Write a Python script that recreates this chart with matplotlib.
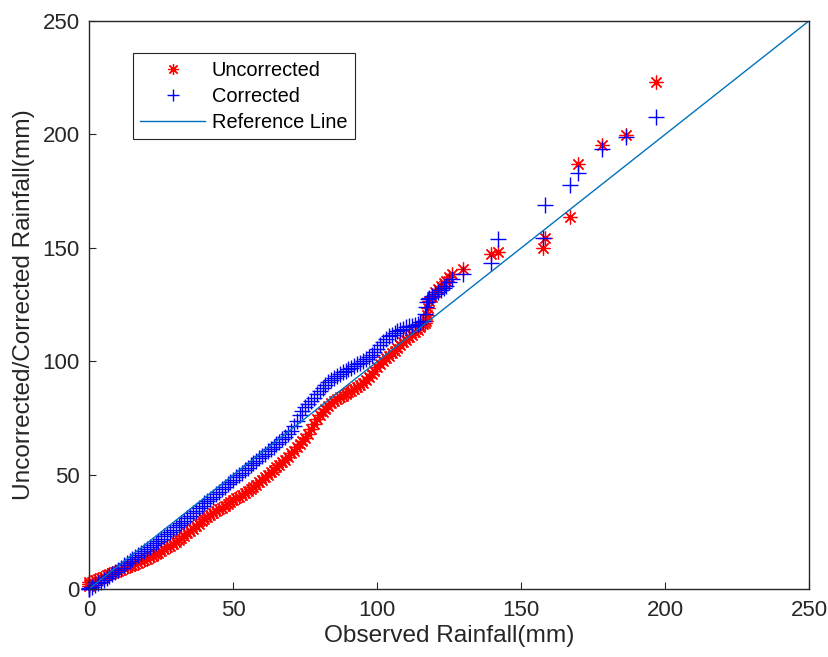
import matplotlib
matplotlib.use("Agg")
from matplotlib import pyplot as plt

plt.rcParams['font.family'] = ['Liberation Sans', 'DejaVu Sans']

# observed rainfall quantiles (mm), shared by both series
observed = [0, 0, 0, 1, 2, 3, 4, 5, 6, 7, 8, 9, 10, 11, 12, 13, 14, 15, 16, 17, 18, 19,
            20, 21, 22, 23, 24, 25, 26, 27, 28, 29, 30, 31, 32, 33, 34, 35, 36, 37, 38, 39,
            40, 41, 42, 43, 44, 45, 46, 47, 48, 49, 50, 51, 52, 53, 54, 55, 56, 57, 58, 59,
            60, 61, 62, 63, 64, 65, 66, 67, 68, 69, 70, 71, 72, 73, 74, 75, 76, 77, 78, 79,
            80, 81, 82, 83, 84, 85, 86, 87, 88, 89, 90, 91, 92, 93, 94, 95, 96, 97, 98, 99,
            100, 101, 102, 103, 104, 105, 106, 107, 108, 109, 110, 111, 112, 113, 114, 115,
            116, 116.5, 117, 117.3, 117.6, 118, 119, 120, 121, 122, 123, 124, 125, 126,
            129.8, 139.6, 141.8, 157.4, 158.3, 167.0, 169.6, 178.2, 186.4, 196.9]

uncorrected = [1.0, 2.0, 2.8, 3.0, 3.6, 4.2, 4.8, 5.3, 5.9, 6.4, 6.9, 7.4, 7.9, 8.4, 8.9, 9.4,
               9.9, 10.4, 10.9, 11.4, 12.0, 12.6, 13.2, 13.8, 14.5, 15.2, 15.9, 16.6, 17.4,
               18.2, 19.0, 19.8, 20.6, 21.5, 22.4, 23.3, 24.3, 25.3, 26.4, 27.5, 28.6, 29.6,
               30.6, 31.5, 32.4, 33.3, 34.1, 34.9, 35.7, 36.5, 37.3, 38.1, 38.9, 39.7, 40.5,
               41.3, 42.1, 43.0, 43.9, 44.8, 45.8, 46.8, 47.9, 49.0, 50.1, 51.2, 52.3, 53.4,
               54.5, 55.6, 56.8, 58.0, 59.5, 60.8, 62.2, 63.6, 65.0, 66.5, 68.3, 70.3, 72.5,
               74.5, 76.3, 77.8, 79.2, 80.5, 81.6, 82.6, 83.5, 84.3, 85.0, 85.7, 86.4, 87.1,
               87.8, 88.6, 89.5, 90.5, 91.7, 93.0, 94.5, 96.0, 97.5, 99.0, 100.3, 101.5,
               102.6, 103.7, 104.8, 106.0, 107.2, 108.4, 109.6, 110.8, 111.8, 112.8, 113.8,
               115.0, 116.3, 117.0, 118.0, 120.5, 123.5, 126.5, 128.5, 130.5, 132.0, 133.3,
               134.5, 135.5, 137.0, 138.5,
               140.7, 147.3, 148.3, 149.8, 154.4, 163.4, 186.9, 195.1, 199.9, 223.1]

corrected = [0.0, 0.0, 0.2, 0.7, 1.5, 2.3, 3.1, 3.9, 4.8, 5.7, 6.6, 7.5, 8.4, 9.3, 10.2, 11.1,
             12.0, 12.9, 13.8, 14.7, 15.6, 16.5, 17.4, 18.3, 19.2, 20.1, 21.0, 22.0, 23.0,
             24.0, 25.0, 26.0, 27.0, 28.0, 29.0, 30.0, 31.0, 32.0, 33.1, 34.2, 35.3, 36.4,
             37.5, 38.5, 39.5, 40.5, 41.5, 42.6, 43.7, 44.8, 45.9, 47.0, 48.0, 49.0, 50.0,
             51.0, 52.1, 53.2, 54.3, 55.4, 56.4, 57.4, 58.4, 59.4, 60.4, 61.4, 62.4, 63.5,
             64.6, 65.7, 66.8, 68.0, 69.5, 71.5, 74.0, 76.3, 78.2, 79.8, 81.2, 82.6, 84.0,
             85.5, 87.0, 88.5, 89.8, 91.0, 92.0, 92.9, 93.7, 94.5, 95.2, 95.9, 96.6, 97.3,
             98.0, 98.7, 99.4, 100.2, 101.0, 101.8, 102.7, 104.0, 105.6, 107.2, 108.7,
             110.0, 111.0, 111.8, 112.5, 113.2, 113.9, 114.5, 115.0, 115.4, 115.8, 116.2,
             116.7, 117.3, 118.0, 121.0, 124.0, 126.0, 127.3, 128.0, 128.8, 129.7, 130.5,
             131.5, 132.5, 133.3, 134.8, 136.3,
             138.5, 143.4, 153.8, 154.3, 169.0, 177.5, 183.1, 193.7, 198.7, 207.5]

ref_x = [0, 250]
ref_y = [0, 250]

axcol = (0.15, 0.15, 0.15)

fig = plt.figure(figsize=(8.29, 6.57), dpi=100)
ax = fig.add_axes([0.1077, 0.104, 0.8685, 0.8645])

ax.plot(observed, uncorrected, linestyle='none', marker=(8, 2, 0), color='r',
        markersize=10, markeredgewidth=0.9, clip_on=False, label='Uncorrected')
ax.plot(observed, corrected, linestyle='none', marker='+', color='b',
        markersize=11, markeredgewidth=1.0, clip_on=False, label='Corrected')
ax.plot(ref_x, ref_y, color=(0.0, 0.447, 0.741), linewidth=1.0, label='Reference Line')

ax.set_xlim(0, 250)
ax.set_ylim(0, 250)
ax.set_xticks([0, 50, 100, 150, 200, 250])
ax.set_yticks([0, 50, 100, 150, 200, 250])

for s in ax.spines.values():
    s.set_color(axcol)
    s.set_linewidth(1.0)
ax.tick_params(direction='in', length=5, width=0.8, color=axcol, labelcolor=axcol,
               labelsize=16, top=False, right=False)
ax.tick_params(axis='x', pad=8)
ax.tick_params(axis='y', pad=7)

ax.set_xlabel('Observed Rainfall(mm)', fontsize=17.6, color=axcol, labelpad=3)
ax.set_ylabel('Uncorrected/Corrected Rainfall(mm)', fontsize=17.6, color=axcol, labelpad=5)

leg = ax.legend(loc='upper left', bbox_to_anchor=(0.0603, 0.9426), borderaxespad=0,
                fontsize=14.4, fancybox=False, framealpha=1, edgecolor=axcol,
                handlelength=3.25, handletextpad=0.33, borderpad=0.38, labelspacing=0.35,
                markerscale=0.8)
leg.get_frame().set_linewidth(0.8)

fig.savefig('out.png')
